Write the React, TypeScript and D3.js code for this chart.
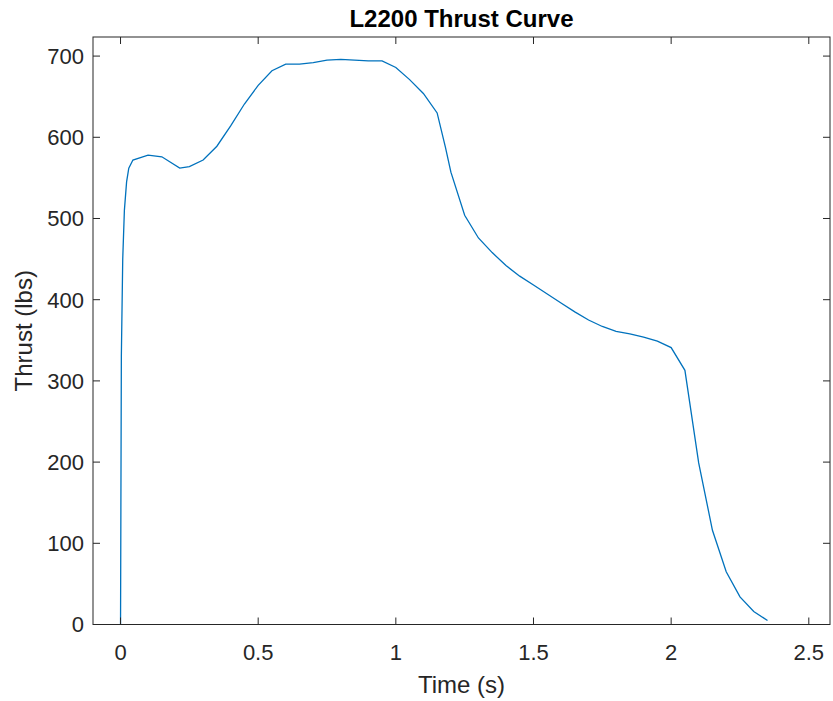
import React from "react";
import * as d3 from "d3";

const timeS = [0, 0.003, 0.008, 0.014, 0.022, 0.03, 0.045, 0.1, 0.15, 0.215, 0.25, 0.3, 0.35, 0.4, 0.45, 0.5, 0.55, 0.6, 0.65, 0.7, 0.75, 0.8, 0.85, 0.9, 0.95, 1.0, 1.05, 1.1, 1.15, 1.18, 1.2, 1.25, 1.3, 1.35, 1.4, 1.45, 1.5, 1.55, 1.6, 1.65, 1.7, 1.75, 1.8, 1.85, 1.9, 1.95, 2.0, 2.05, 2.1, 2.15, 2.2, 2.25, 2.3, 2.35];
const thrustLbs = [0, 330, 450, 510, 545, 562, 572, 578, 576, 562, 564, 572, 589, 614, 641, 664, 682, 690, 690, 692, 695, 696, 695, 694, 694, 686, 671, 654, 630, 588, 557, 504, 476, 458, 442, 429, 418, 407, 396, 385, 375, 367, 361, 358, 354, 349, 341, 313, 199, 116, 65, 34, 16, 5];
const xTicks = [0, 0.5, 1, 1.5, 2, 2.5];
const xTickLabels = ["0", "0.5", "1", "1.5", "2", "2.5"];
const yTicks = [0, 100, 200, 300, 400, 500, 600, 700];

const W = 833, H = 701;
const L = 93, R = 830, T = 37, B = 624.5;

export default function App() {
  const x = d3.scaleLinear().domain([-0.1, 2.577]).range([L, R]);
  const y = d3.scaleLinear().domain([0, 723.5]).range([B, T]);
  const pts = timeS.map((t, i) => [t, thrustLbs[i]] as [number, number]);
  const line = d3.line<[number, number]>().x(d => x(d[0])).y(d => y(d[1]));
  const axisColor = "#262626";
  const font = "'Liberation Sans', Arial, Helvetica, sans-serif";
  const tl = 7;
  return (
    <svg width={W} height={H} style={{ position: "absolute", left: 0, top: 0, background: "#fff" }} fontFamily={font}>
      <rect x={0} y={0} width={W} height={H} fill="#fff" />
      <path d={line(pts) || ""} fill="none" stroke="#0072BD" strokeWidth={1.3} />
      <rect x={L} y={T} width={R - L} height={B - T} fill="none" stroke={axisColor} strokeWidth={1} />
      {xTicks.map((t, i) => (
        <g key={"x" + i}>
          <line x1={x(t)} x2={x(t)} y1={B} y2={B - tl} stroke={axisColor} />
          <line x1={x(t)} x2={x(t)} y1={T} y2={T + tl} stroke={axisColor} />
          <text x={x(t)} y={B + 35} textAnchor="middle" fontSize={22} fill={axisColor}>{xTickLabels[i]}</text>
        </g>
      ))}
      {yTicks.map((v, i) => (
        <g key={"y" + i}>
          <line x1={L} x2={L + tl} y1={y(v)} y2={y(v)} stroke={axisColor} />
          <line x1={R} x2={R - tl} y1={y(v)} y2={y(v)} stroke={axisColor} />
          <text x={L - 9} y={y(v)} dy="0.36em" textAnchor="end" fontSize={22} fill={axisColor}>{v}</text>
        </g>
      ))}
      <text x={(L + R) / 2} y={693} textAnchor="middle" fontSize={24} fill={axisColor}>Time (s)</text>
      <text transform={`translate(32,${(T + B) / 2}) rotate(-90)`} textAnchor="middle" fontSize={24} fill={axisColor}>Thrust (lbs)</text>
      <text x={(L + R) / 2} y={27} textAnchor="middle" fontSize={24} fontWeight="bold" fill="#000">L2200 Thrust Curve</text>
    </svg>
  );
}
